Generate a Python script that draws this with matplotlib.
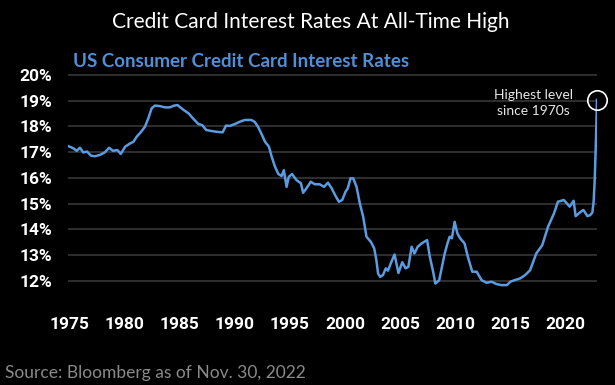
import matplotlib.pyplot as plt

# values
years = [1974.86, 1975.35, 1975.65, 1975.95, 1976.25, 1976.6, 1976.95, 1977.3, 1977.75, 1978.2,
         1978.6, 1978.95, 1979.35, 1979.65, 1980.05, 1980.5, 1980.8, 1981.1, 1981.5, 1981.85,
         1982.15, 1982.45, 1982.75, 1983.2, 1983.65, 1984.1, 1984.5, 1984.8, 1985.35, 1985.8,
         1986.25, 1986.7, 1987.05, 1987.4, 1987.9, 1988.35, 1988.9, 1989.2, 1989.55, 1990.0,
         1990.45, 1990.9, 1991.5, 1991.8, 1992.1, 1992.4, 1992.75, 1993.1, 1993.35, 1993.65,
         1993.95, 1994.25, 1994.45, 1994.7, 1994.9, 1995.2, 1995.6, 1996.0, 1996.2, 1996.5,
         1996.9, 1997.25, 1997.7, 1998.1, 1998.45, 1998.8, 1999.1, 1999.45, 1999.75, 2000.05,
         2000.25, 2000.5, 2000.75, 2001.05, 2001.35, 2001.65, 2001.95, 2002.35, 2002.65, 2002.85,
         2003.0, 2003.2, 2003.45, 2003.7, 2003.9, 2004.15, 2004.5, 2004.85, 2005.2, 2005.5,
         2005.75, 2006.05, 2006.3, 2006.6, 2006.95, 2007.45, 2007.7, 2008.0, 2008.2, 2008.55,
         2008.8, 2009.05, 2009.3, 2009.5, 2009.7, 2009.95, 2010.2, 2010.45, 2010.85, 2011.15,
         2011.55, 2011.95, 2012.4, 2012.85, 2013.3, 2013.75, 2014.2, 2014.7, 2015.0, 2015.45,
         2015.9, 2016.35, 2016.8, 2017.36, 2017.9, 2018.43, 2018.97, 2019.32, 2019.86, 2020.39,
         2020.75, 2020.93, 2021.39, 2021.64, 2022.0, 2022.25, 2022.45, 2022.57, 2022.67, 2022.77,
         2022.87]
rates = [17.24, 17.15, 17.05, 17.17, 16.99, 17.02, 16.86, 16.84, 16.89, 16.99,
         17.17, 17.05, 17.08, 16.93, 17.21, 17.34, 17.40, 17.60, 17.79, 17.99,
         18.31, 18.70, 18.81, 18.79, 18.74, 18.74, 18.81, 18.83, 18.64, 18.51,
         18.29, 18.09, 18.05, 17.86, 17.82, 17.79, 17.77, 18.03, 18.02, 18.09,
         18.18, 18.25, 18.25, 18.18, 17.99, 17.73, 17.40, 17.21, 16.82, 16.43,
         16.15, 16.07, 16.30, 15.65, 16.04, 16.15, 15.91, 15.79, 15.42, 15.59,
         15.85, 15.75, 15.75, 15.65, 15.81, 15.59, 15.33, 15.07, 15.14, 15.46,
         15.59, 15.98, 15.98, 15.65, 15.00, 14.49, 13.71, 13.51, 13.26, 12.80,
         12.28, 12.15, 12.22, 12.48, 12.39, 12.67, 13.02, 12.30, 12.72, 12.48,
         12.54, 13.32, 13.06, 13.32, 13.45, 13.58, 12.93, 12.35, 11.89, 12.02,
         12.54, 13.06, 13.45, 13.71, 13.65, 14.29, 13.84, 13.65, 13.45, 12.93,
         12.35, 12.35, 12.02, 11.92, 11.96, 11.87, 11.83, 11.83, 11.96, 12.03,
         12.09, 12.22, 12.41, 13.06, 13.38, 14.10, 14.62, 15.07, 15.14, 14.88,
         15.11, 14.51, 14.68, 14.75, 14.51, 14.55, 14.65, 15.10, 16.00, 17.40,
         19.03]
ytick_vals = [12, 13, 14, 15, 16, 17, 18, 19, 20]
xtick_vals = [1975, 1980, 1985, 1990, 1995, 2000, 2005, 2010, 2015, 2020]

W, H = 615, 385
fig = plt.figure(figsize=(W / 100, H / 100), dpi=100, facecolor='black')

# axes box in pixel coordinates
left, right, top, bottom = 68, 597, 72.4, 291.0
ax = fig.add_axes([left / W, (H - bottom) / H, (right - left) / W, (bottom - top) / H])
ax.set_facecolor('black')

ax.plot(years, rates, color='#5b9be0', lw=1.8, solid_joinstyle='round', zorder=3)
ax.plot(years[-1], rates[-1], marker='o', ms=14, mfc='none', mec='white', mew=1.2,
        clip_on=False, zorder=4)

ax.set_xlim(1974.864, 2022.87)
ax.set_ylim(11.6, 20.1)
ax.set_yticks(ytick_vals)
ax.set_yticklabels([f'{v}%' for v in ytick_vals])
ax.set_xticks(xtick_vals)
ax.set_xticklabels([str(v) for v in xtick_vals])
ax.grid(axis='y', color='#3c3c3c', lw=1.1)
ax.grid(axis='x', visible=False)
for s in ax.spines.values():
    s.set_visible(False)
ax.tick_params(axis='both', length=0, colors='white')
ax.tick_params(axis='y', pad=11.5)
ax.tick_params(axis='x', pad=19)
for lab in ax.get_yticklabels() + ax.get_xticklabels():
    lab.set_family('Roboto')
    lab.set_fontweight('bold')
    lab.set_fontsize(12.5)

fig.text(311 / W, (H - 28) / H, 'Credit Card Interest Rates At All-Time High',
         color='white', fontsize=15, family='Lato', ha='center', va='baseline')
fig.text(73 / W, (H - 67) / H, 'US Consumer Credit Card Interest Rates',
         color='#4f8fd9', fontsize=13.5, family='Lato', fontweight='bold',
         ha='left', va='baseline')
fig.text(533 / W, (H - 103) / H, 'Highest level\nsince 1970s', color='#e6e6e6',
         fontsize=10, family='Lato', ha='center', va='center', linespacing=1.45)
fig.text(5 / W, (H - 378) / H, 'Source: Bloomberg as of Nov. 30, 2022',
         color='#8a8a8a', fontsize=12.5, family='Lato', ha='left', va='baseline')

fig.savefig('out.png', dpi=100, facecolor='black')
